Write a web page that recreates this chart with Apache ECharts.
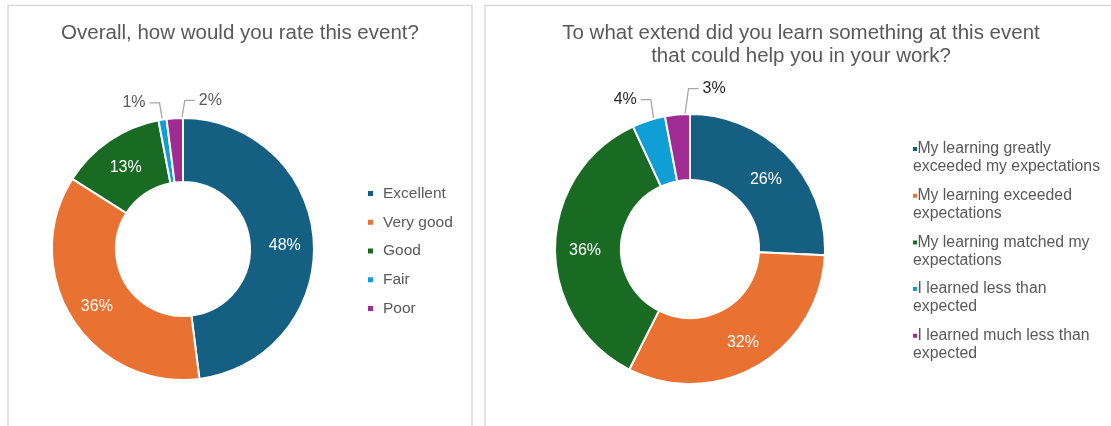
<!DOCTYPE html>
<html>
<head>
<meta charset="utf-8">
<script src="https://cdn.jsdelivr.net/npm/echarts@6/dist/echarts.min.js"></script>
<style>
  html, body { margin: 0; padding: 0; background: #fff; }
  #chart { width: 1111px; height: 426px; }
</style>
</head>
<body>
<div id="chart"></div>
<script>
// survey answers, in percent
const ratingTitle = 'Overall, how would you rate this event?';
const ratingCategories = ['Excellent', 'Very good', 'Good', 'Fair', 'Poor'];
const ratingValues = [48, 36, 13, 1, 2];

const learningTitle = 'To what extend did you learn something at this event\nthat could help you in your work?';
const learningCategories = [
  'My learning greatly\nexceeded my expectations',
  'My learning exceeded\nexpectations',
  'My learning matched my\nexpectations',
  'I learned less than\nexpected',
  'I learned much less than\nexpected'
];
const learningValues = [26, 32, 36, 4, 3];

const palette = ['#156082', '#E97132', '#196B24', '#0F9ED5', '#A02B93'];
const font = '"Liberation Sans", Arial, sans-serif';

// big slices get the label inside, the small ones outside with a leader line
function pieData(names, values, outsideColor, lineLengths) {
  return values.map((v, i) => {
    const small = i >= 3;
    return {
      name: names[i],
      value: v,
      label: small
        ? { position: 'outside', color: outsideColor }
        : { position: 'inside', color: '#fff', offset: [0, 3] },
      labelLine: { show: small, length: lineLengths[i], length2: 10 }
    };
  });
}

// Excel style leader: starts in the middle of the ring, last slice goes right
function leader(ringWidth) {
  return function (p) {
    const pts = p.labelLinePoints;
    if (p.dataIndex < 3 || !pts) return;
    const a = pts[0], b = pts[1];
    const len = Math.hypot(b[0] - a[0], b[1] - a[1]) || 1;
    const ux = (b[0] - a[0]) / len, uy = (b[1] - a[1]) / len;
    const start = [a[0] - ux * ringWidth / 2, a[1] - uy * ringWidth / 2];
    const side = p.dataIndex === 4 ? 1 : -1;
    const elbow = [start[0] + side * 8, b[1]];
    const end = [elbow[0] + side * 10, b[1]];
    return {
      x: end[0] + side * 4,
      y: end[1],
      align: side > 0 ? 'left' : 'right',
      verticalAlign: 'middle',
      labelLinePoints: [start, elbow, end]
    };
  };
}

const panelStyle = { fill: '#fff', stroke: '#D9D9D9', lineWidth: 1.5 };
const titleStyle = { fontSize: 20.5, fontWeight: 'normal', color: '#595959', fontFamily: font };

// square marker sitting at the top of a tall box, so it lines up with the first text line
const topMarker = 'path://M0,0h4v4h-4zM0,22h0.01v0.01h-0.01z';

const option = {
  color: palette,
  textStyle: { fontFamily: font },
  animation: false,
  graphic: [
    { type: 'rect', z: -10, shape: { x: 8, y: 5.5, width: 464, height: 440 }, style: panelStyle },
    { type: 'rect', z: -10, shape: { x: 485, y: 5.5, width: 640, height: 440 }, style: panelStyle }
  ],
  title: [
    {
      text: ratingTitle,
      left: 240, top: 21, padding: 0, textAlign: 'center',
      textStyle: Object.assign({ lineHeight: 24 }, titleStyle)
    },
    {
      text: learningTitle,
      left: 801, top: 22, padding: 0, textAlign: 'center',
      textStyle: Object.assign({ lineHeight: 23 }, titleStyle)
    }
  ],
  legend: [
    {
      data: ratingCategories,
      orient: 'vertical',
      left: 368, top: 184.5, padding: 0,
      icon: 'rect', itemWidth: 5, itemHeight: 5, itemGap: 10.75,
      itemStyle: { borderWidth: 0 },
      textStyle: { fontSize: 15.5, color: '#595959', lineHeight: 18, padding: [0, 0, 0, 5] }
    },
    {
      data: learningCategories,
      orient: 'vertical',
      left: 913, top: 140, padding: 0,
      icon: topMarker, itemWidth: 4, itemHeight: 22, itemGap: 10.7,
      itemStyle: { borderWidth: 0 },
      formatter: name => ' ' + name,
      textStyle: { fontSize: 15.8, color: '#595959', lineHeight: 18, padding: [0, 0, 0, -9] }
    }
  ],
  series: [
    {
      type: 'pie',
      center: [183, 249],
      radius: [67, 131],
      startAngle: 90,
      avoidLabelOverlap: false,
      itemStyle: { borderColor: '#fff', borderWidth: 2 },
      label: { formatter: '{c}%', fontSize: 16, fontFamily: font },
      labelLine: { lineStyle: { color: '#A6A6A6', width: 1.3 } },
      labelLayout: leader(131 - 67),
      data: pieData(ratingCategories, ratingValues, '#595959', [0, 0, 0, 17, 18])
    },
    {
      type: 'pie',
      center: [690, 249],
      radius: [69, 135],
      startAngle: 90,
      avoidLabelOverlap: false,
      itemStyle: { borderColor: '#fff', borderWidth: 2 },
      label: { formatter: '{c}%', fontSize: 16, fontFamily: font },
      labelLine: { lineStyle: { color: '#A6A6A6', width: 1.3 } },
      labelLayout: leader(135 - 69),
      data: pieData(learningCategories, learningValues, '#262626', [0, 0, 0, 22, 26])
    }
  ]
};

const chart = echarts.init(document.getElementById('chart'));
chart.setOption(option);
</script>
</body>
</html>
